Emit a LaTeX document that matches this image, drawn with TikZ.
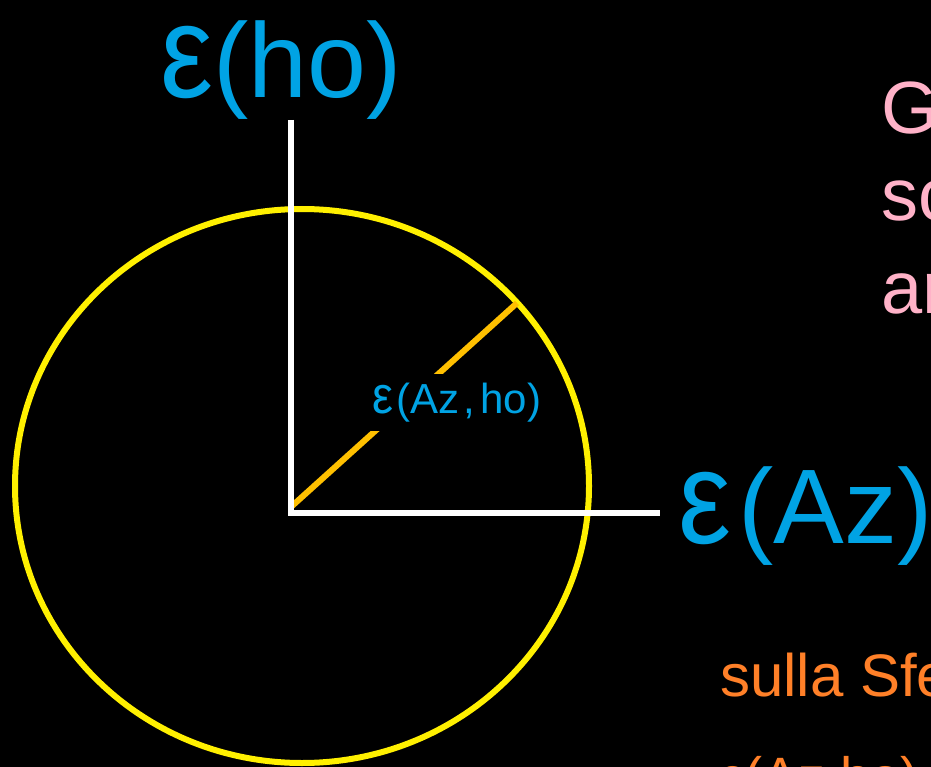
\documentclass[tikz,border=0pt]{standalone}
\usepackage{fontspec}
\setmainfont{Liberation Sans}
\usepackage{graphicx}
\usetikzlibrary{positioning}

\definecolor{epsblue}{RGB}{0,163,228}
\definecolor{notepink}{RGB}{255,178,200}
\definecolor{noteorange}{RGB}{255,128,40}
\definecolor{rimyellow}{RGB}{255,240,0}
\definecolor{spokegold}{RGB}{255,192,0}

\newcommand{\epsglyph}{\scalebox{1.12}[1.25]{ε}}

\begin{document}
\begin{tikzpicture}[
  x = 1pt, y = -1pt,
  rim/.style       = {draw=rimyellow, line width=6pt},
  axisline/.style  = {draw=white, line width=6pt},
  spoke/.style     = {draw=spokegold, line width=6pt},
  biglbl/.style    = {text=epsblue, inner sep=0pt, anchor=base west,
                      font=\fontsize{106}{110}\selectfont},
  smalllbl/.style  = {text=epsblue, fill=black, inner xsep=3pt, inner ysep=9pt,
                      anchor=base west, font=\fontsize{42}{46}\selectfont},
  pinknote/.style  = {text=notepink, inner sep=0pt, anchor=base west,
                      font=\fontsize{74}{80}\selectfont},
  orangenote/.style = {text=noteorange, inner sep=0pt, anchor=base west,
                      font=\fontsize{60}{64}\selectfont},
]

% ── Frame: black page, clipped at the border ─────────────────
\useasboundingbox (0,0) rectangle (931,767);
\clip (0,0) rectangle (931,767);
\fill[black] (0,0) rectangle (931,767);

% ── Sphere, radius and axes ──────────────────────────────────
\coordinate (O)      at (291,513);
\coordinate (ytop)   at (291,120);
\coordinate (xend)   at (660,513);
\coordinate (foot)   at (292,506);
\coordinate (rimpt)  at (517,303);

\draw[rim]   (302,486) ellipse [x radius=287, y radius=277];
\draw[spoke] (foot) -- (rimpt);
\draw[axisline] (ytop) -- (O) -- (xend);

% ── Labels ───────────────────────────────────────────────────
\node[biglbl]   (hoLbl)   at (160,98)  {\epsglyph(ho)};
\node[biglbl]   (azLbl)   at (678,543) {\epsglyph\kern0.07em(Az)};
\node[smalllbl] (azhoLbl) at (369,413)
  {\epsglyph\kern0.08em(Az\kern0.1em,\kern0.12em ho)};

% ── Notes on the right, cut by the border ────────────────────
\node[pinknote]   (noteG)  at (881,134) {G};
\node[pinknote]   (noteSc) at (881,221) {sc};
\node[pinknote]   (noteAr) at (881,313) {ar};
\node[orangenote] (sfera)  at (720,696) {sulla Sfe};
\node[orangenote, font=\fontsize{54}{58}\selectfont]
                  (epsAzho) at (720,795) {ε(Az,ho)};

\end{tikzpicture}
\end{document}
